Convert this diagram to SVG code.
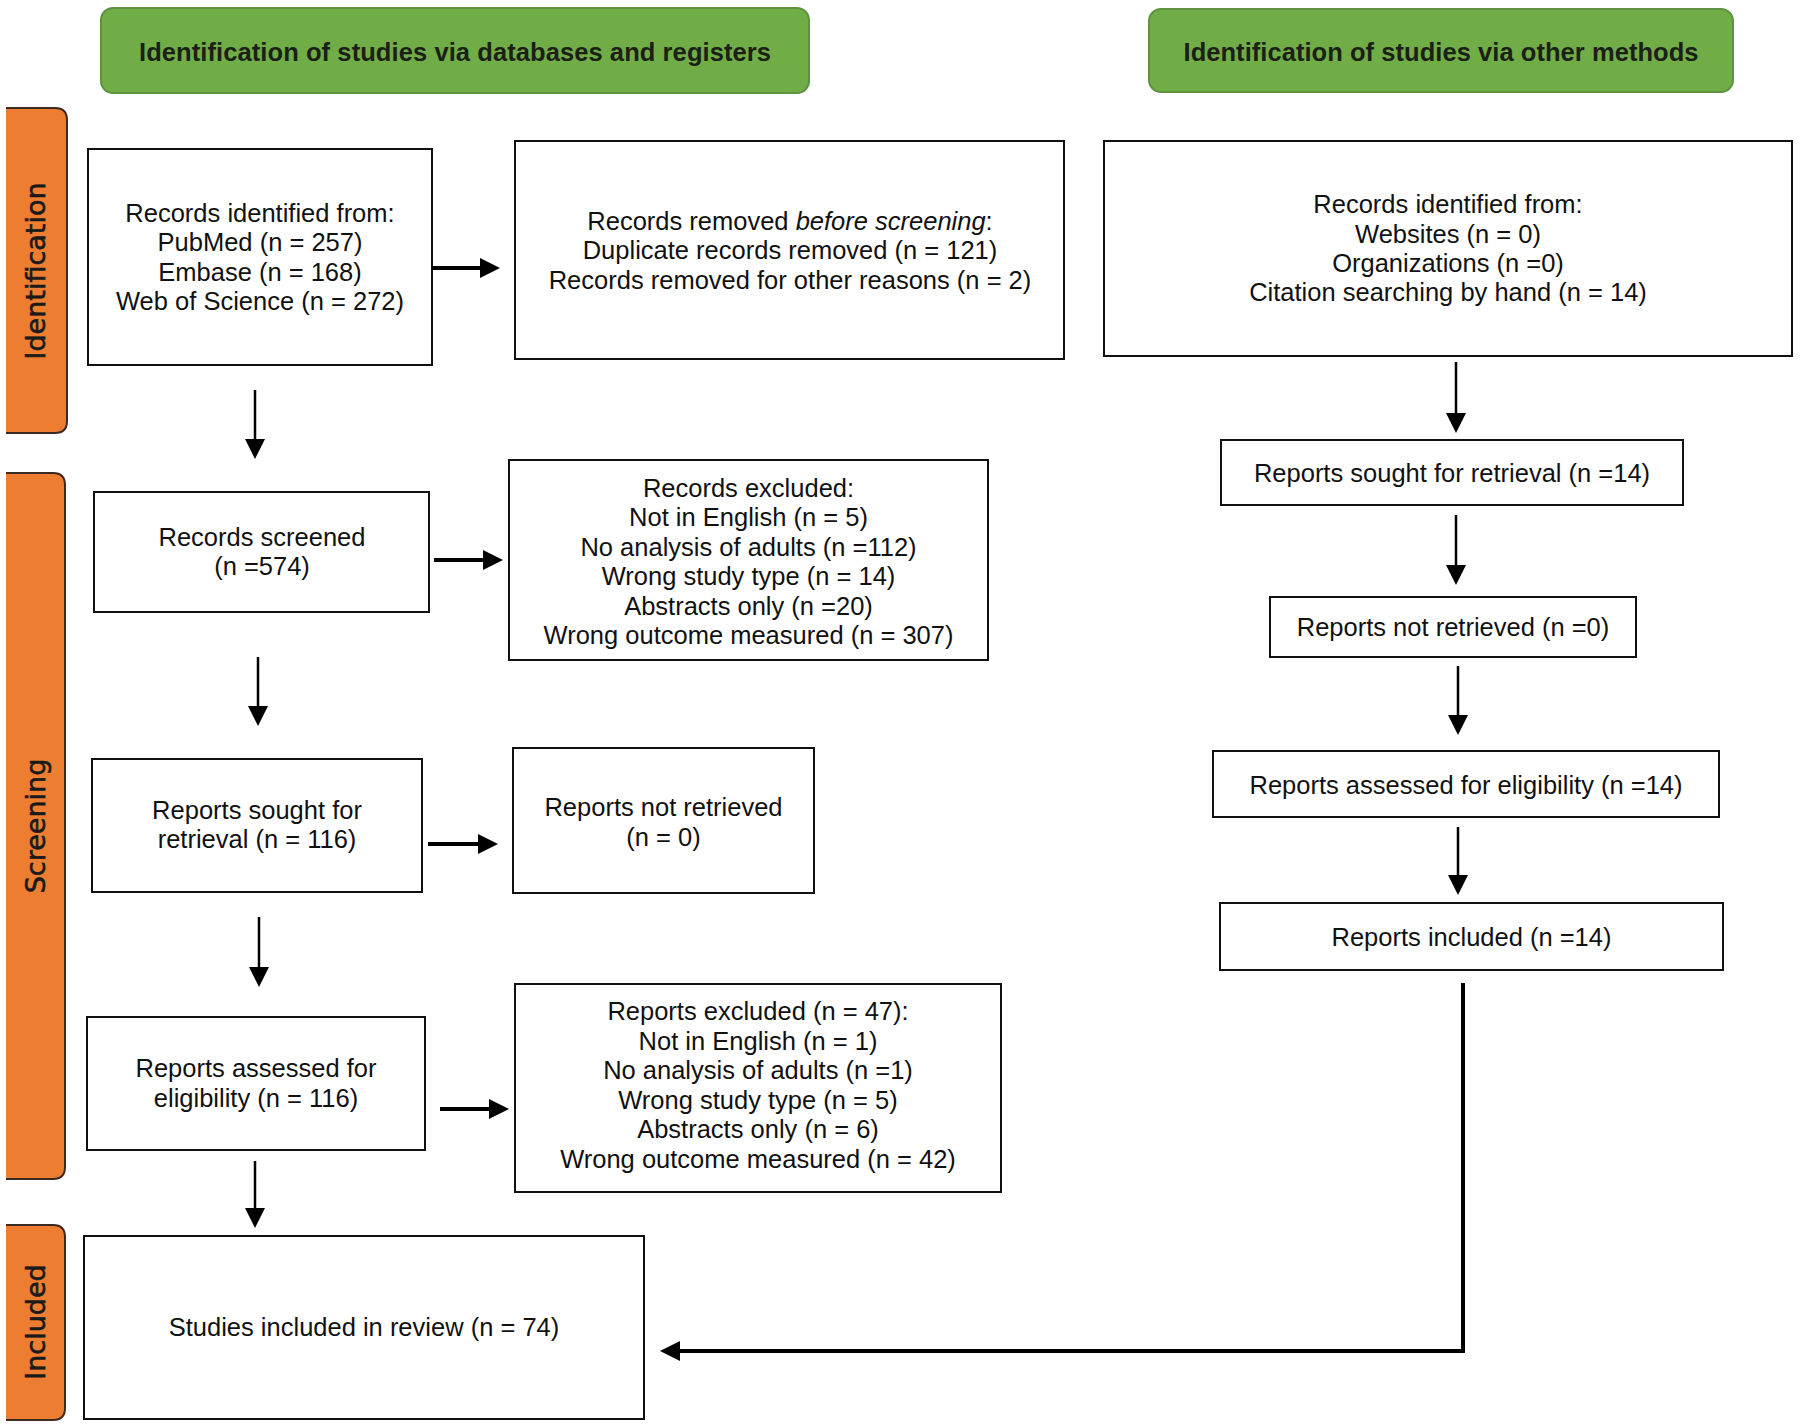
<svg xmlns="http://www.w3.org/2000/svg" width="1800" height="1427" viewBox="0 0 1800 1427">
<style>
.box{fill:#fff;stroke:#111;stroke-width:2}
.hdr{fill:#70AD47;stroke:#5E9140;stroke-width:2}
.side{fill:#ED7D31;stroke:#3b2a20;stroke-width:2}
.t{font-family:"Liberation Sans",Arial,sans-serif;font-size:25.5px;fill:#111;text-anchor:middle}
.ht{font-family:"Liberation Sans",Arial,sans-serif;font-size:25.5px;font-weight:bold;fill:#1c1f16;text-anchor:middle}
.st{font-family:"DejaVu Sans",Verdana,sans-serif;font-size:27px;fill:#1a1a1a;stroke:#1a1a1a;stroke-width:0.6;text-anchor:middle}
.thin{stroke:#000;stroke-width:2.5;fill:none}
.thick{stroke:#000;stroke-width:4;fill:none}
</style>
<defs>
<marker id="ah" markerUnits="userSpaceOnUse" markerWidth="20" markerHeight="20" refX="4" refY="10" orient="auto" viewBox="0 0 20 20">
<path d="M0,0 L20,10 L0,20 z" fill="#000"/>
</marker>
</defs>
<rect width="1800" height="1427" fill="#fff"/>

<g id="header-databases">
<rect class="hdr" x="101" y="8" width="708" height="85" rx="12"/>
<text class="ht" x="455" y="61" textLength="632">Identification of studies via databases and registers</text>
</g>
<g id="header-other">
<rect class="hdr" x="1149" y="9" width="584" height="83" rx="12"/>
<text class="ht" x="1441" y="61" textLength="515">Identification of studies via other methods</text>
</g>

<g id="side-identification">
<path class="side" d="M6,108 H55 Q67,108 67,120 V421 Q67,433 55,433 H6"/>
<text class="st" transform="translate(45,271) rotate(-90)">Identification</text>
</g>
<g id="side-screening">
<path class="side" d="M6,473 H53 Q65,473 65,485 V1167 Q65,1179 53,1179 H6"/>
<text class="st" transform="translate(45,826) rotate(-90)">Screening</text>
</g>
<g id="side-included">
<path class="side" d="M6,1225 H53 Q65,1225 65,1237 V1408 Q65,1420 53,1420 H6"/>
<text class="st" transform="translate(45,1322) rotate(-90)">Included</text>
</g>

<g id="records-identified">
<rect class="box" x="88" y="149" width="344" height="216"/>
<text class="t" x="260" y="222">Records identified from:</text>
<text class="t" x="260" y="251.3">PubMed (n = 257)</text>
<text class="t" x="260" y="280.7">Embase (n = 168)</text>
<text class="t" x="260" y="310">Web of Science (n = 272)</text>
</g>
<g id="records-removed">
<rect class="box" x="515" y="141" width="549" height="218"/>
<text class="t" x="790" y="230">Records removed <tspan font-style="italic">before screening</tspan>:</text>
<text class="t" x="790" y="259">Duplicate records removed (n = 121)</text>
<text class="t" x="790" y="288.5">Records removed for other reasons (n = 2)</text>
</g>
<g id="other-records-identified">
<rect class="box" x="1104" y="141" width="688" height="215"/>
<text class="t" x="1448" y="213">Records identified from:</text>
<text class="t" x="1448" y="242.5">Websites (n = 0)</text>
<text class="t" x="1448" y="272">Organizations (n =0)</text>
<text class="t" x="1448" y="301">Citation searching by hand (n = 14)</text>
</g>
<g id="records-screened">
<rect class="box" x="94" y="492" width="335" height="120"/>
<text class="t" x="262" y="545.5">Records screened</text>
<text class="t" x="262" y="575">(n =574)</text>
</g>
<g id="records-excluded">
<rect class="box" x="509" y="460" width="479" height="200"/>
<text class="t" x="748.5" y="497">Records excluded:</text>
<text class="t" x="748.5" y="526.4">Not in English (n = 5)</text>
<text class="t" x="748.5" y="555.8">No analysis of adults (n =112)</text>
<text class="t" x="748.5" y="585.2">Wrong study type (n = 14)</text>
<text class="t" x="748.5" y="614.6">Abstracts only (n =20)</text>
<text class="t" x="748.5" y="644">Wrong outcome measured (n = 307)</text>
</g>
<g id="reports-sought">
<rect class="box" x="92" y="759" width="330" height="133"/>
<text class="t" x="257" y="818.5">Reports sought for</text>
<text class="t" x="257" y="848">retrieval (n = 116)</text>
</g>
<g id="reports-not-retrieved">
<rect class="box" x="513" y="748" width="301" height="145"/>
<text class="t" x="663.5" y="816">Reports not retrieved</text>
<text class="t" x="663.5" y="846">(n = 0)</text>
</g>
<g id="reports-assessed">
<rect class="box" x="87" y="1017" width="338" height="133"/>
<text class="t" x="256" y="1077">Reports assessed for</text>
<text class="t" x="256" y="1106.5">eligibility (n = 116)</text>
</g>
<g id="reports-excluded">
<rect class="box" x="515" y="984" width="486" height="208"/>
<text class="t" x="758" y="1020">Reports excluded (n = 47):</text>
<text class="t" x="758" y="1049.6">Not in English (n = 1)</text>
<text class="t" x="758" y="1079.2">No analysis of adults (n =1)</text>
<text class="t" x="758" y="1108.8">Wrong study type (n = 5)</text>
<text class="t" x="758" y="1138.4">Abstracts only (n = 6)</text>
<text class="t" x="758" y="1168">Wrong outcome measured (n = 42)</text>
</g>
<g id="studies-included">
<rect class="box" x="84" y="1236" width="560" height="183"/>
<text class="t" x="364" y="1336">Studies included in review (n = 74)</text>
</g>

<g id="other-reports-sought">
<rect class="box" x="1221" y="440" width="462" height="65"/>
<text class="t" x="1452" y="482">Reports sought for retrieval (n =14)</text>
</g>
<g id="other-reports-not-retrieved">
<rect class="box" x="1270" y="597" width="366" height="60"/>
<text class="t" x="1453" y="636">Reports not retrieved (n =0)</text>
</g>
<g id="other-reports-assessed">
<rect class="box" x="1213" y="751" width="506" height="66"/>
<text class="t" x="1466" y="794">Reports assessed for eligibility (n =14)</text>
</g>
<g id="other-reports-included">
<rect class="box" x="1220" y="903" width="503" height="67"/>
<text class="t" x="1471.5" y="946">Reports included (n =14)</text>
</g>

<g id="connectors">
<line class="thick" x1="432" y1="268" x2="484" y2="268" marker-end="url(#ah)"/>
<line class="thick" x1="434" y1="560" x2="487" y2="560" marker-end="url(#ah)"/>
<line class="thick" x1="428" y1="844" x2="482" y2="844" marker-end="url(#ah)"/>
<line class="thick" x1="440" y1="1109" x2="493" y2="1109" marker-end="url(#ah)"/>
<line class="thin" x1="255" y1="390" x2="255" y2="443" marker-end="url(#ah)"/>
<line class="thin" x1="258" y1="657" x2="258" y2="710" marker-end="url(#ah)"/>
<line class="thin" x1="259" y1="917" x2="259" y2="971" marker-end="url(#ah)"/>
<line class="thin" x1="255" y1="1161" x2="255" y2="1212" marker-end="url(#ah)"/>
<line class="thin" x1="1456" y1="362" x2="1456" y2="417" marker-end="url(#ah)"/>
<line class="thin" x1="1456" y1="515" x2="1456" y2="569" marker-end="url(#ah)"/>
<line class="thin" x1="1458" y1="666" x2="1458" y2="719" marker-end="url(#ah)"/>
<line class="thin" x1="1458" y1="827" x2="1458" y2="879" marker-end="url(#ah)"/>
<polyline class="thick" points="1463,983 1463,1351 676,1351" marker-end="url(#ah)"/>
</g>
</svg>
